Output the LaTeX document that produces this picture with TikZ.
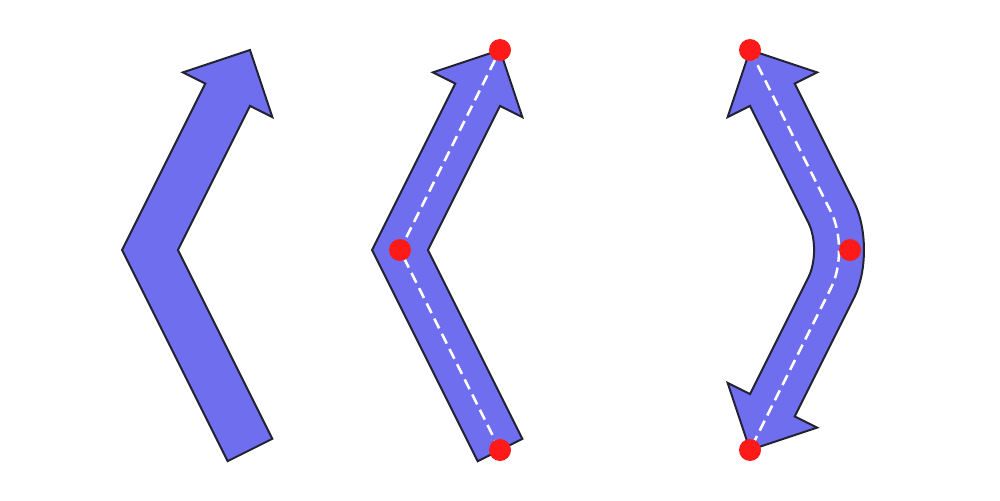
\documentclass[tikz,border=0pt]{standalone}
\usetikzlibrary{positioning}
\definecolor{arrowblue}{HTML}{6E6EEE}
\definecolor{dotred}{HTML}{FF1A1A}
\definecolor{edgegray}{HTML}{222233}
\begin{document}
\begin{tikzpicture}[x=0.02cm, y=-0.02cm, line join=miter,
  arrow body/.style={fill=arrowblue, draw=edgegray, line width=0.04cm},
  guide line/.style={draw=white, line width=0.05cm, dash pattern=on 0.22cm off 0.12cm},
  dot node/.style={circle, fill=dotred, minimum size=0.44cm, inner sep=0pt}]
\useasboundingbox (0,0) rectangle (1000,500);
% first arrow
\draw[arrow body] (227.64,461.18) -- (122.05,250) -- (205.28,83.54) -- (182.92,72.36) -- (250,50)
  -- (272.36,117.08) -- (250,105.9) -- (177.95,250) -- (272.36,438.82) -- cycle;
% second arrow
\draw[arrow body] (477.64,461.18) -- (372.05,250) -- (455.28,83.54) -- (432.92,72.36) -- (500,50)
  -- (522.36,117.08) -- (500,105.9) -- (427.95,250) -- (522.36,438.82) -- cycle;
\coordinate (s1) at (500,450);
\coordinate (s2) at (400,250);
\coordinate (s3) at (500,50);
\draw[guide line] (s1) -- (s2) -- (s3);
\node[dot node] (d1) at (s1) {};
\node[dot node] (d2) at (s2) {};
\node[dot node] (d3) at (s3) {};
% third arrow
\draw[arrow body] (750,50) -- (817.08,72.36) -- (794.72,83.54) -- (854.07,202.24)
  .. controls (867.26,228.62) and (867.26,271.38) .. (854.07,297.76)
  -- (794.72,416.46) -- (817.08,427.64) -- (750,450) -- (727.64,382.92) -- (750,394.1) -- (808.41,277.28)
  .. controls (815.95,262.21) and (815.95,237.79) .. (808.41,222.72)
  -- (750,105.9) -- (727.64,117.08) -- cycle;
\coordinate (c1) at (750,50);
\coordinate (c2) at (850,250);
\coordinate (c3) at (750,450);
\draw[guide line, rounded corners=0.84cm] (c1) -- (c2) -- (c3);
\node[dot node] (e1) at (c1) {};
\node[dot node] (e2) at (c2) {};
\node[dot node] (e3) at (c3) {};
\end{tikzpicture}
\end{document}
